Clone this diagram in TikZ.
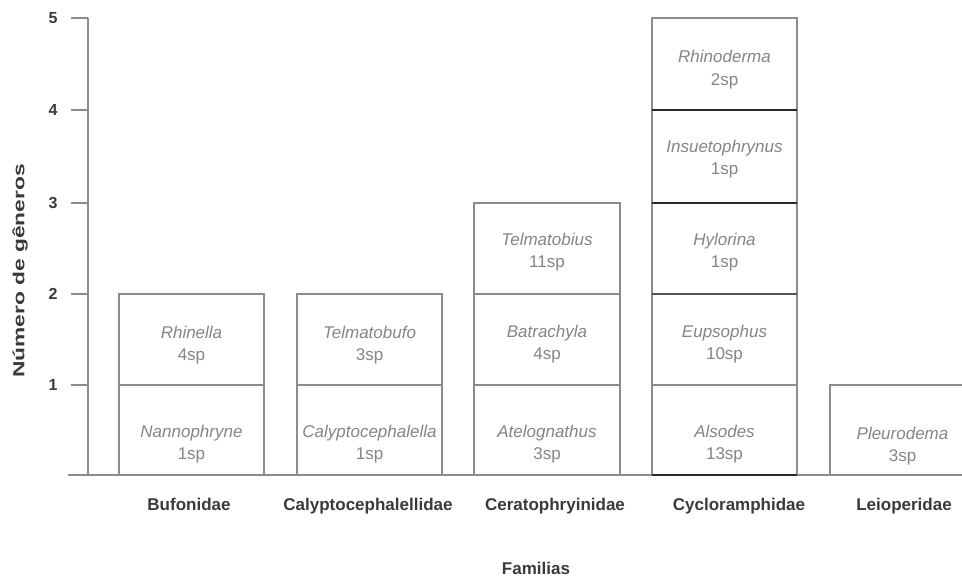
\documentclass[tikz,border=0pt]{standalone}
\usepackage{fontspec}
\setmainfont{Liberation Sans}
\usepackage{graphicx}
\definecolor{gl}{HTML}{8C8C8C}
\definecolor{md}{HTML}{555555}
\definecolor{dk}{HTML}{2A2A2A}
\definecolor{tx}{HTML}{858585}
\definecolor{lb}{HTML}{3A3A3A}
\begin{document}
\begin{tikzpicture}[x=1pt,y=-1pt,
  axisline/.style={draw=gl,line width=1.3pt},
  barbox/.style={draw=gl,line width=1.2pt},
  gen/.style={font=\fontsize{17}{20}\selectfont\itshape, text=tx, inner sep=0pt, anchor=base},
  spn/.style={font=\fontsize{17}{20}\selectfont, text=tx, inner sep=0pt, anchor=base},
  fam/.style={font=\fontsize{17}{20}\selectfont\bfseries, text=lb, inner sep=0pt, anchor=base},
  num/.style={font=\fontsize{16}{19}\selectfont\bfseries, text=lb, inner sep=0pt}]
\useasboundingbox (0,0) rectangle (962,577);
\fill[white] (0,0) rectangle (962,577);
\clip (0,0) rectangle (962,577);

% axes
\draw[axisline] (68,475) -- (962,475);
\draw[axisline] (88,18) -- (88,475);
\foreach \yy/\lab in {385/1,294/2,203/3,110/4,18/5}{
  \draw[axisline] (71,\yy) -- (88,\yy);
  \node[num] (n\lab) at (53,\yy) {\lab};
}
\node[font=\fontsize{16}{19}\selectfont\bfseries, text=lb, rotate=90, inner sep=0pt] (ylab) at (20,271) {\scalebox{1.42}[1]{Número de gêneros}};
\node[fam] (xlab) at (536,574) {Familias};

% Bufonidae
\draw[barbox] (119,475) rectangle (264,294);
\draw[barbox] (119,385) -- (264,385);
\node[gen] (g1) at (191.5,438) {Nannophryne};
\node[spn] (s1) at (191.5,460) {1sp};
\node[gen] (g2) at (191.5,339) {Rhinella};
\node[spn] (s2) at (191.5,361) {4sp};
\node[fam] (f1) at (189,510) {Bufonidae};

% Calyptocephalellidae
\draw[barbox] (297,475) rectangle (442,294);
\draw[barbox] (297,385) -- (442,385);
\node[gen] (g3) at (369.5,438) {Calyptocephalella};
\node[spn] (s3) at (369.5,460) {1sp};
\node[gen] (g4) at (369.5,339) {Telmatobufo};
\node[spn] (s4) at (369.5,361) {3sp};
\node[fam] (f2) at (368,510) {Calyptocephalellidae};

% Ceratophryinidae
\draw[barbox] (474,475) rectangle (620,203);
\draw[barbox] (474,385) -- (620,385);
\draw[barbox] (474,294) -- (620,294);
\node[gen] (g5) at (547,438) {Atelognathus};
\node[spn] (s5) at (547,460) {3sp};
\node[gen] (g6) at (547,338) {Batrachyla};
\node[spn] (s6) at (547,360) {4sp};
\node[gen] (g7) at (547,246) {Telmatobius};
\node[spn] (s7) at (547,268) {11sp};
\node[fam] (f3) at (555,510) {Ceratophryinidae};

% Cycloramphidae
\draw[barbox] (652,475) rectangle (797,18);
\draw[barbox] (652,385) -- (797,385);
\draw[draw=md,line width=1.4pt] (652,294) -- (797,294);
\draw[draw=dk,line width=1.4pt] (652,203) -- (797,203);
\draw[draw=dk,line width=1.4pt] (652,110) -- (797,110);
\draw[draw=dk,line width=1.4pt] (652,475) -- (797,475);
\node[gen] (g8) at (724.5,438) {Alsodes};
\node[spn] (s8) at (724.5,460) {13sp};
\node[gen] (g9) at (724.5,338) {Eupsophus};
\node[spn] (s9) at (724.5,360) {10sp};
\node[gen] (g10) at (724.5,246) {Hylorina};
\node[spn] (s10) at (724.5,268) {1sp};
\node[gen] (g11) at (724.5,153) {Insuetophrynus};
\node[spn] (s11) at (724.5,175) {1sp};
\node[gen] (g12) at (724.5,63) {Rhinoderma};
\node[spn] (s12) at (724.5,86) {2sp};
\node[fam] (f4) at (739,510) {Cycloramphidae};

% Leioperidae
\draw[barbox] (830,475) rectangle (975,385);
\node[gen] (g13) at (902.5,440) {Pleurodema};
\node[spn] (s13) at (902.5,461) {3sp};
\node[fam] (f5) at (904,510) {Leioperidae};
\end{tikzpicture}
\end{document}
